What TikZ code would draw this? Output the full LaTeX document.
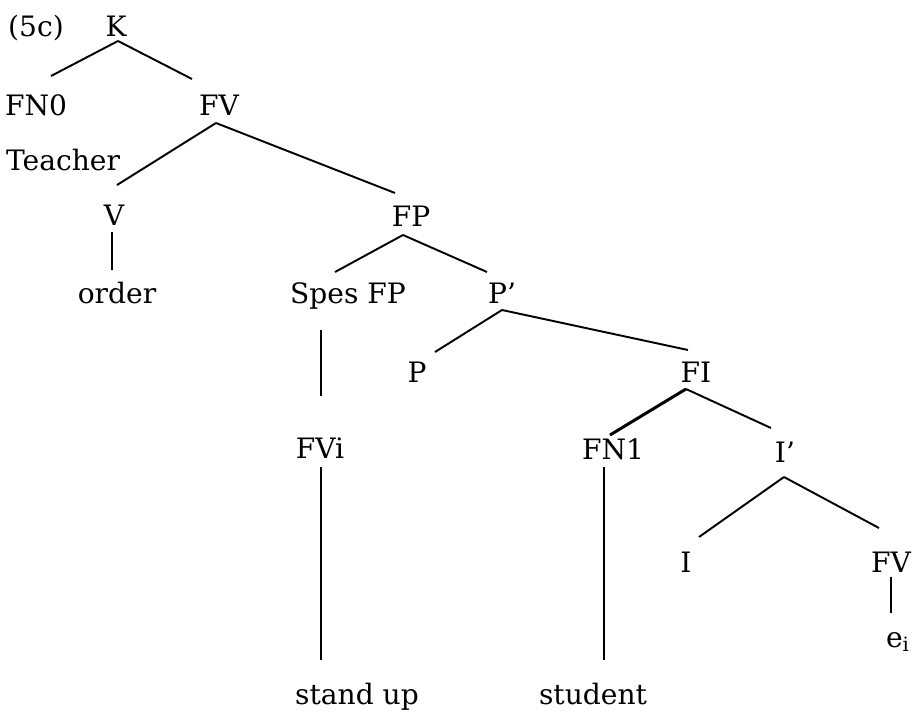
\documentclass[tikz,border=0pt]{standalone}
\usepackage{fontspec}
\setmainfont{DejaVu Serif}
\usetikzlibrary{positioning}

\begin{document}
\begin{tikzpicture}[x=0.02cm,y=-0.02cm,
    every node/.style={anchor=base,inner sep=0pt,font=\fontsize{16}{19}\selectfont},
    branch/.style={line width=1.1pt}]
  \useasboundingbox (0,0) rectangle (912,717);

  % labels, placed on their baselines
  \node (ex) at (36,36) {(5c)};
  \node (K) at (116,36) {K};
  \node (FN0) at (36,115) {FN0};
  \node (FV) at (219,115) {FV};
  \node (teacher) at (63,170) {Teacher};
  \node (V) at (114,225) {V};
  \node (order) at (117,303) {order};
  \node (FP) at (411,226) {FP};
  \node (spec) at (348,303) {Spes FP};
  \node (Pbar) at (502,303) {P’};
  \node (P) at (417,382) {P};
  \node (FI) at (696,382) {FI};
  \node (FVi) at (320,458) {FVi};
  \node (FN1) at (613,459) {FN1};
  \node (Ibar) at (785,462) {I’};
  \node (I) at (686,572) {I};
  \node (FVe) at (891,572) {FV};
  \node (ei) at (898,647) {e\textsubscript{i}};
  \node (standup) at (357,704) {stand up};
  \node (student) at (593,704) {student};

  % branches
  \draw[branch] ([shift={(2,5)}]K.base) -- ([shift={(15,-39)}]FN0.base);
  \draw[branch] ([shift={(2,5)}]K.base) -- ([shift={(-27,-36)}]FV.base);
  \draw[branch] ([shift={(-3,8)}]FV.base) -- ([shift={(3,-40)}]V.base);
  \draw[branch] ([shift={(-3,8)}]FV.base) -- ([shift={(-16,-33)}]FP.base);
  \draw[branch] ([shift={(-2,7)}]V.base) -- ([shift={(-5,-33)}]order.base);
  \draw[branch] ([shift={(-8,9)}]FP.base) -- ([shift={(-13,-31)}]spec.base);
  \draw[branch] ([shift={(-8,9)}]FP.base) -- ([shift={(-15,-31)}]Pbar.base);
  \draw[branch] ([shift={(-27,27)}]spec.base) -- ([shift={(1,-62)}]FVi.base);
  \draw[branch] ([shift={(0,7)}]Pbar.base) -- ([shift={(18,-30)}]P.base);
  \draw[branch] ([shift={(0,7)}]Pbar.base) -- ([shift={(-8,-32)}]FI.base);
  \draw[branch,line width=1.7pt] ([shift={(-10,7)}]FI.base) -- ([shift={(-3,-24)}]FN1.base);
  \draw[branch] ([shift={(-10,7)}]FI.base) -- ([shift={(-14,-34)}]Ibar.base);
  \draw[branch] ([shift={(1,9)}]FVi.base) -- ([shift={(-36,-44)}]standup.base);
  \draw[branch] ([shift={(-9,8)}]FN1.base) -- ([shift={(11,-44)}]student.base);
  \draw[branch] ([shift={(-1,15)}]Ibar.base) -- ([shift={(13,-35)}]I.base);
  \draw[branch] ([shift={(-1,15)}]Ibar.base) -- ([shift={(-12,-44)}]FVe.base);
  \draw[branch] ([shift={(0,5)}]FVe.base) -- ([shift={(-7,-34)}]ei.base);
\end{tikzpicture}
\end{document}
